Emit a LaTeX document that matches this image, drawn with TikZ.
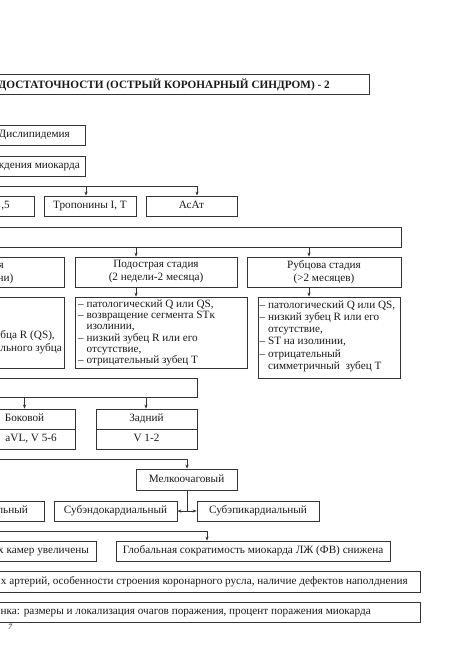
\documentclass[tikz,border=0pt]{standalone}
\usepackage{fontspec}
\setmainfont{Liberation Serif}
\usetikzlibrary{arrows.meta}
\begin{document}
\begin{tikzpicture}[x=1pt,y=-1pt,
  every node/.style={font=\fontsize{11.2}{13}\selectfont, inner sep=0pt, text=black!90},
  bx/.style={draw=black!80, line width=0.8pt},
  sl/.style={text height=7.6pt, text depth=2.5pt},
  ln/.style={draw=black!80, line width=0.7pt},
  arr/.style={ln,-{Stealth[length=4pt,width=3.2pt]}},
  darr/.style={ln,{Stealth[length=4pt,width=3.2pt]}-{Stealth[length=4pt,width=3.2pt]}},
  lst/.style={align=left, anchor=north west}]
\useasboundingbox (0,0) rectangle (475,671);
\clip (0,0) rectangle (475,671);
\newcommand\mybox[6]{\node[bx, minimum width={(#4-#2)*1pt}, minimum height={(#5-#3)*1pt}, align=center] (#1) at ({(#2+#4)/2},{(#3+#5)/2}) {#6};}
% x positions of connectors
\coordinate (xa1) at (86,0);
\coordinate (xa2) at (197,0);
\coordinate (xb1) at (136,0);
\coordinate (xb2) at (309,0);
\coordinate (xc1) at (24.5,0);
\coordinate (xc2) at (146,0);
\coordinate (xd) at (187,0);
\coordinate (xe) at (207,0);
% title
\mybox{title}{-5}{74}{369}{94}{}
\node[anchor=base west, font=\fontsize{11.25}{12}\selectfont\bfseries] (titletxt) at (-1.5,88.3) {ДОСТАТОЧНОСТИ (ОСТРЫЙ КОРОНАРНЫЙ СИНДРОМ) - 2};
% top boxes
\mybox{dis}{-5}{125}{85}{145}{}
\node[sl, anchor=east] (distxt) at (70,135) {Дислипидемия};
\mybox{pov}{-5}{156}{85}{176}{}
\node[sl, anchor=east] (povtxt) at (80,166) {ждения миокарда};
% markers
\mybox{kfk}{-5}{196}{34}{216}{}
\node[sl, anchor=east] (kfktxt) at (10,206) {,5};
\mybox{trop}{44}{196}{136}{216}{\strut Тропонины I, T}
\mybox{asat}{146}{196}{237}{216}{\strut АсАт}
\coordinate (bus1) at (-5,186);
\draw[ln] (bus1) -- (bus1 -| xa2);
\draw[arr] (bus1 -| xa1) -- (trop.north -| xa1);
\draw[arr] (bus1 -| xa2) -- (asat.north -| xa2);
% stages
\mybox{wide}{-5}{227}{401}{247}{}
\mybox{ost}{-5}{257}{64}{287}{}
\node[sl, anchor=east] (osttxt1) at (4,266) {я};
\node[sl, anchor=east] (osttxt2) at (13.5,279) {ни)};
\mybox{pod}{75}{257}{237}{287}{Подострая стадия\\(2 недели-2 месяца)}
\mybox{rub}{247}{257}{401}{287}{Рубцова стадия\\(>2 месяцев)}
\draw[arr] (wide.south -| xb1) -- (pod.north -| xb1);
\draw[arr] (wide.south -| xb2) -- (rub.north -| xb2);
% ECG lists
\mybox{ostl}{-5}{297}{64}{368}{}
\node[sl, anchor=east] (ostltxt1) at (55,336) {убца R (QS),};
\node[sl, anchor=east] (ostltxt2) at (62,349) {льного зубца};
\mybox{podl}{75}{297}{247}{368}{}
\mybox{rubl}{258}{297}{400}{378}{}
\node[lst, font=\fontsize{11.2}{11.3}\selectfont] (podtxt) at (78,299.5) {– патологический Q или QS,\\– возвращение сегмента STк\\\phantom{– }изолинии,\\– низкий зубец R или его\\\phantom{– }отсутствие,\\– отрицательный зубец T};
\node[lst, font=\fontsize{11.2}{12.2}\selectfont] (rubtxt) at (259.5,300.5) {– патологический Q или QS,\\– низкий зубец R или его\\\phantom{– }отсутствие,\\– ST на изолинии,\\– отрицательный\\\phantom{– }симметричный\ \ зубец T};
\draw[arr] (pod.south -| xb1) -- (podl.north -| xb1);
\draw[arr] (rub.south -| xb2) -- (rubl.north -| xb2);
% localisation
\mybox{wide2}{-5}{378}{197}{397}{}
\mybox{bok}{-26}{409}{75}{449}{}
\coordinate (zmid) at (0,429);
\draw[bx] (bok.west |- zmid) -- (bok.east |- zmid);
\node[sl] (boktxt) at (24.5,419) {Боковой};
\node[sl, anchor=east] (boktxt2) at (57,439) {aVL, V 5-6};
\mybox{zad}{96}{409}{197}{449}{}
\draw[bx] (zad.west |- zmid) -- (zad.east |- zmid);
\node[sl] (zadtxt) at (146.5,419) {Задний};
\node[sl] (zadtxt2) at (146.5,439) {V 1-2};
\draw[arr] (wide2.south -| xc1) -- (bok.north -| xc1);
\draw[arr] (wide2.south -| xc2) -- (zad.north -| xc2);
% focal size
\coordinate (bus2) at (-5,459);
\mybox{melk}{136}{469}{237}{490}{\strut Мелкоочаговый}
\draw[ln] (bus2) -- (bus2 -| xd);
\draw[arr] (bus2 -| xd) -- (melk.north -| xd);
\mybox{transm}{-5}{501}{44}{521}{}
\node[sl, anchor=east] (transmtxt) at (28,511) {льный};
\mybox{subendo}{54}{501}{177}{521}{\strut Субэндокардиальный}
\mybox{subepi}{197}{501}{319}{521}{\strut Субэпикардиальный}
\coordinate (split) at (187,511);
\draw[ln] (melk.south -| xd) -- (split);
\draw[darr] (subendo.east) -- (subepi.west);
% echo
\coordinate (bus3) at (-5,531);
\mybox{cham}{-5}{541}{96}{561}{}
\node[sl, anchor=east] (chamtxt) at (89,551) {х камер увеличены};
\mybox{glob}{116}{541}{390}{561}{\strut Глобальная сократимость миокарда ЛЖ (ФВ) снижена}
\draw[ln] (bus3) -- (bus3 -| xe);
\draw[arr] (bus3 -| xe) -- (glob.north -| xe);
% bottom boxes
\mybox{angio}{-5}{571}{420}{592}{}
\node[sl, anchor=east] (angiotxt) at (408,581.5) {х артерий, особенности строения коронарного русла, наличие дефектов наполднения};
\mybox{scint}{-5}{602}{420}{622}{}
\node[sl, anchor=east] (scinttxt) at (371,612) {нка: размеры и локализация очагов поражения, процент поражения миокарда};
\node[anchor=base west, font=\fontsize{8}{9}\selectfont\itshape] (foot) at (8,629.5) {7};
\end{tikzpicture}
\end{document}
